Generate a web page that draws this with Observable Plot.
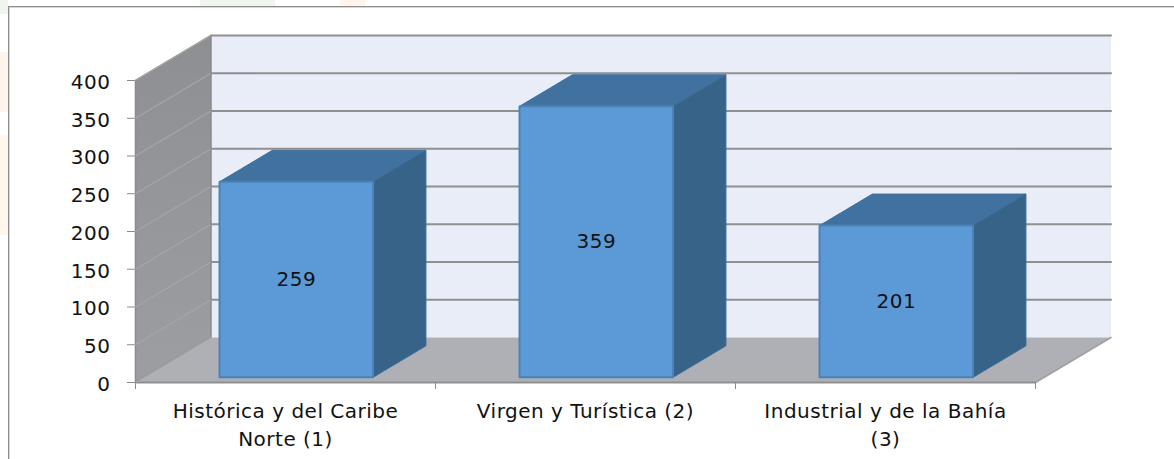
<!DOCTYPE html>
<html>
<head>
<meta charset="utf-8">
<script src="https://cdn.jsdelivr.net/npm/d3@7"></script>
<script src="https://cdn.jsdelivr.net/npm/@observablehq/plot@0.6"></script>
<style>
html,body{margin:0;padding:0;background:#fff;overflow:hidden}
body{height:459px}
.tint{position:absolute}
#frame{position:absolute;left:8px;top:6px;right:0;bottom:0;background:#fff;border-left:1px solid #8c8c8c;border-top:1px solid #8c8c8c;box-shadow:inset 1px 1px 0 #d8d8d8}
#chart{position:absolute;left:0;top:0}
svg{background:transparent!important;display:block}
svg g[aria-label="y-axis tick label"] text, svg g[aria-label="x-axis tick label"] text, svg g[aria-label="text"] text{letter-spacing:.5px}
</style>
</head>
<body>
<div class="tint" style="left:0;top:0;width:8px;height:14px;background:#eef6ee"></div>
<div class="tint" style="left:0;top:52px;width:8px;height:60px;background:#fff5ec"></div>
<div class="tint" style="left:0;top:135px;width:8px;height:100px;background:#fff7ec"></div>
<div class="tint" style="left:200px;top:0;width:75px;height:6px;background:#eef6ee"></div>
<div class="tint" style="left:340px;top:0;width:25px;height:6px;background:#fff5ec"></div>
<div id="frame"></div>
<div id="chart"></div>
<script>
const categories = ["Histórica y del Caribe\nNorte (1)", "Virgen y Turística (2)", "Industrial y de la Bahía\n(3)"];
const values = [259, 359, 201];
const yTicks = [0, 50, 100, 150, 200, 250, 300, 350, 400];

// oblique projection: depth d in 0..1 moves a point right and up, in data units
const depthX = 75.5 / 300, depthY = 45 / 0.755;
const P = (x, y, d) => ({x: x + d * depthX, y: y + d * depthY});
const poly = (pts, o) => Plot.line([...pts, pts[0]].map(([x, y, d]) => P(x, y, d)),
  {x: "x", y: "y", curve: "linear", strokeLinejoin: "miter", ...o});

const gridColor = "#8f8f8f";
const d0 = 0.115, d1 = 0.815;
const barLeft = 0.2512, barRight = 0.7630;

const gradient = () => {
  const ns = "http://www.w3.org/2000/svg";
  const defs = document.createElementNS(ns, "defs");
  defs.innerHTML = '<linearGradient id="wallFill" x1="0" y1="0" x2="0" y2="1"><stop offset="0" stop-color="#8d8f92"/><stop offset="1" stop-color="#9c9ea1"/></linearGradient>';
  return defs;
};

const walls = [
  poly([[0,400,1],[3,400,1],[3,0,1],[0,0,1]], {fill: "#e9edf8", stroke: "none"}),
  poly([[0,0,0],[0,400,0],[0,400,1],[0,0,1]], {fill: "url(#wallFill)", stroke: "#8a8a8a", strokeWidth: 1.5}),
  poly([[0,0,0],[3,0,0],[3,0,1],[0,0,1]], {fill: "#aeb0b6", stroke: "none"})
];
const wallGrid = yTicks.slice(1).map(v => Plot.line([P(0, v, 0), P(0, v, 1)], {x: "x", y: "y", stroke: "#a6a6a6", strokeWidth: 1.2}));
const backGrid = yTicks.slice(1).map(v => Plot.line([P(0, v, 1), P(3, v, 1)], {x: "x", y: "y", stroke: gridColor, strokeWidth: 2}));
const floorEdges = [
  Plot.line([P(3, 0, 0), P(3, 0, 1)], {x: "x", y: "y", stroke: "#a0a0a0", strokeWidth: 1.5}),
  Plot.line([P(0, 0, 0), P(3, 0, 0)], {x: "x", y: "y", stroke: gridColor, strokeWidth: 2}),
  Plot.line([P(0, 0, 0), P(0, 0, 1)], {x: "x", y: "y", stroke: "#a6a6a6", strokeWidth: 1.2})
];
const bars = values.flatMap((v, i) => {
  const a = i + barLeft, b = i + barRight;
  return [
    poly([[a,v,d0],[b,v,d0],[b,v,d1],[a,v,d1]], {fill: "#41729f", stroke: "#3f6f9c", strokeWidth: 1}),
    poly([[b,0,d0],[b,v,d0],[b,v,d1],[b,0,d1]], {fill: "#386388", stroke: "#3b6a92", strokeWidth: 1}),
    poly([[a,0,d0],[b,0,d0],[b,v,d0],[a,v,d0]], {fill: "#5b9ad7", stroke: "#4a82b8", strokeWidth: 2})
  ];
});
const labels = values.map((v, i) => ({...P(i + (barLeft + barRight) / 2, v / 2, d0), t: String(v)}));

const chart = Plot.plot({
  width: 1174, height: 459,
  marginLeft: 135, marginRight: 63.5, marginTop: 35, marginBottom: 77,
  style: {fontFamily: "'DejaVu Sans', sans-serif", color: "#111", background: "transparent"},
  x: {domain: [0, 3 + depthX]},
  y: {domain: [0, 400 + depthY]},
  marks: [
    gradient,
    ...walls, ...wallGrid, ...backGrid, ...floorEdges, ...bars,
    Plot.text(labels, {x: "x", y: "y", text: "t", fontSize: 20, fill: "#111"}),
    Plot.axisY({ticks: yTicks, tickSize: 8, tickFormat: () => "", label: null, stroke: "#8a8a8a"}),
    Plot.axisY({ticks: yTicks, tickSize: 0, tickPadding: 25, dy: 2, label: null, fontSize: 20, fill: "#111", tickFormat: d => d}),
    Plot.axisX({ticks: [0, 1, 2, 3], tickSize: 7, tickFormat: () => "", label: null, stroke: "#8a8a8a"}),
    Plot.axisX({ticks: [0.5, 1.5, 2.5], tickSize: 0, tickPadding: 16, label: null, fontSize: 20, fill: "#111", lineHeight: 1.4,
      lineAnchor: "top", tickFormat: d => categories[Math.floor(d)]})
  ]
});
document.getElementById("chart").appendChild(chart);
</script>
</body>
</html>
